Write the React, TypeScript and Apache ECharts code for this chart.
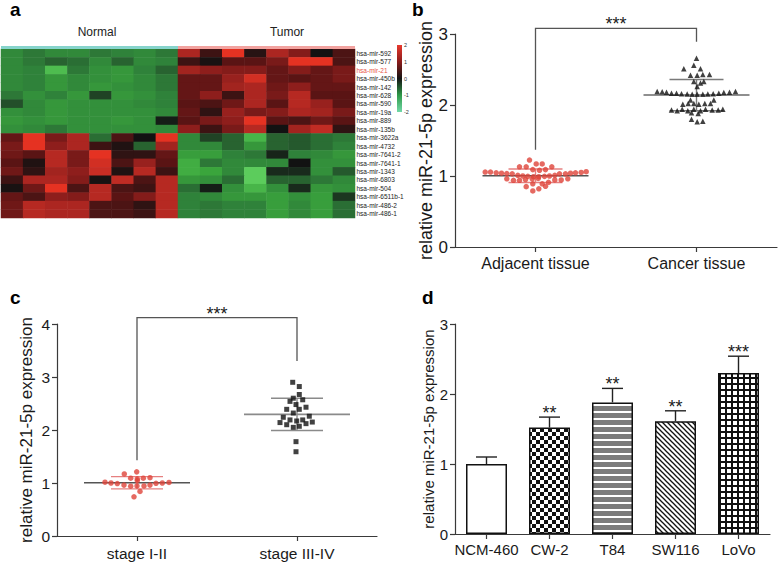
import React, { useEffect, useRef } from 'react';
import * as echarts from 'echarts';

const FONT = '"Liberation Sans", Arial, Helvetica, sans-serif';

// ---------- Panel a : heatmap ----------
const miRNAs = ['hsa-mir-592', 'hsa-mir-577', 'hsa-mir-21', 'hsa-mir-450b', 'hsa-mir-142', 'hsa-mir-628', 'hsa-mir-590', 'hsa-mir-19a', 'hsa-mir-889', 'hsa-mir-135b', 'hsa-mir-3622a', 'hsa-mir-4732', 'hsa-mir-7641-2', 'hsa-mir-7641-1', 'hsa-mir-1343', 'hsa-mir-6803', 'hsa-mir-504', 'hsa-mir-6511b-1', 'hsa-mir-486-2', 'hsa-mir-486-1'];
const highlightMiRNA = 'hsa-mir-21';
const sampleGroups = ['Normal', 'Tumor'];
const sampleIds = ['N1', 'N2', 'N3', 'N4', 'N5', 'N6', 'N7', 'N8', 'T1', 'T2', 'T3', 'T4', 'T5', 'T6', 'T7', 'T8'];
const heatNormal = [
  [-1.1, -0.9, -1.1, -1.1, -0.9, -1.0, -1.1, -0.9],
  [-1.1, -0.9, -0.7, -0.8, -1.1, -0.7, -1.1, -1.0],
  [-1.1, -1.0, -1.8, -0.9, -1.2, -1.3, -1.0, -0.7],
  [-1.1, -1.0, -1.3, -1.1, -1.2, -1.3, -1.1, -0.9],
  [-1.1, -1.0, -1.3, -1.1, -1.3, -1.2, -1.1, -0.9],
  [-0.9, -1.2, -1.0, -1.3, -0.4, -1.3, -1.2, -1.0],
  [-0.5, -1.1, -1.3, -1.2, -1.2, -1.2, -1.1, -1.0],
  [-1.2, -1.1, -1.3, -1.2, -1.2, -1.2, -1.2, -1.1],
  [-1.3, -1.2, -1.3, -1.2, -1.2, -1.3, -1.2, -0.1],
  [-1.2, -1.1, -0.9, -1.2, -1.2, -1.2, -1.2, -1.1],
  [0.6, 1.9, 0.8, 1.3, -0.8, 0.4, 0.0, 1.9],
  [0.8, 1.9, 1.0, 1.3, 0.3, 0.1, -0.7, 1.2],
  [0.7, 0.5, 1.4, 0.8, 1.9, 0.2, 0.2, 0.6],
  [0.5, 0.1, 1.4, 0.8, 1.7, 0.4, 1.1, 0.5],
  [0.7, 0.2, 1.2, 1.0, 1.6, 0.1, 1.4, 0.3],
  [0.3, 1.3, 1.3, 0.9, 0.05, 1.5, 0.4, 1.4],
  [0.05, 0.7, 1.9, 0.4, 1.4, 0.4, 0.3, 1.4],
  [0.6, 0.4, 1.0, 0.9, 1.4, 0.5, 0.9, 1.4],
  [0.7, 1.4, 1.3, 1.3, 0.4, 0.4, 0.2, 1.4],
  [0.7, 1.4, 1.3, 1.3, 0.4, 0.4, 0.3, 1.4],
];
const heatTumor = [
  [1.3, 0.3, 1.9, 0.15, 1.3, 0.9, 0.0, 0.4],
  [0.3, 0.05, 0.5, 0.5, 0.8, 1.9, 1.9, 0.4],
  [1.2, 1.0, 0.9, 0.9, 0.6, 0.9, 0.6, 0.8],
  [0.6, 0.6, 1.1, 1.7, 0.6, 0.5, 0.6, 0.8],
  [0.6, 0.6, 1.2, 1.3, 0.7, 1.0, 0.6, 0.6],
  [0.6, 1.0, 0.3, 1.3, 0.8, 1.4, 0.5, 0.5],
  [0.5, 0.4, 0.7, 1.3, 0.5, 1.4, 1.1, 0.5],
  [0.6, 0.2, 1.1, 0.8, 0.9, 1.3, 1.2, 0.8],
  [0.5, 0.8, 1.0, 1.9, 0.5, 0.4, 0.7, 0.5],
  [1.0, 0.3, 0.8, 1.4, 0.0, 1.2, 1.5, 0.2],
  [-1.1, -0.4, -0.7, -1.7, -0.7, -0.6, -0.8, -0.9],
  [-1.1, -1.1, -0.7, -1.3, -0.7, -0.6, -0.8, -1.0],
  [-1.4, -1.4, -1.0, -0.9, -0.15, -1.0, -1.1, -1.3],
  [-1.6, -0.9, -1.1, -1.1, -1.1, 0.0, -1.2, -1.2],
  [-1.6, -1.5, -1.1, -2.0, -0.2, -0.2, -1.2, -0.6],
  [-1.3, -1.2, -0.8, -2.0, -0.7, -0.7, -0.9, -1.1],
  [-0.8, -0.1, -1.2, -1.7, -1.2, -0.2, -1.3, -1.2],
  [-1.0, -1.1, -1.3, -1.3, -1.4, -1.2, -1.4, -0.3],
  [-1.0, -0.9, -1.0, -1.0, -1.4, -1.1, -1.4, -0.8],
  [-1.0, -0.9, -1.0, -1.0, -1.4, -1.1, -1.4, -0.8],
];
const legendTicks = [2, 1, 0, -1, -2];

// ---------- Panel b : adjacent vs cancer tissue ----------
const tissueCategories = ['Adjacent tissue', 'Cancer tissue'];
const adjacentValues = [1.225, 1.17, 1.17, 1.13, 1.13, 1.13, 1.09, 1.08, 1.09, 1.055, 1.055, 1.045, 1.04, 1.035, 1.03, 1.03, 1.03, 1.04, 1.045, 1.05, 1.06, 1.01, 1.0, 0.995, 0.99, 0.99, 0.995, 1.0, 1.01, 0.96, 0.94, 0.94, 0.95, 0.96, 0.965, 0.945, 0.945, 0.96, 0.89, 0.89, 0.91, 0.85, 0.855, 0.82, 0.79];
const adjacentJitter = [-6, 0.7, 6.7, -16, -9.3, 16.3, -2.7, 4, 10, -50.3, -45, -39.3, -34, -28.7, -23.3, 24, 30, 35, 40, 45.7, 50.7, -17.7, -12.7, -7.7, -2, 3.3, 9, 14, 19.3, -28.7, -22, -16, -10, -3.3, 2.7, 19.3, 25.7, 32.3, -2.7, 6.7, 13, -9.3, 10, 3.3, -2.7];
const cancerValues = [2.66, 2.56, 2.51, 2.51, 2.42, 2.42, 2.43, 2.43, 2.33, 2.31, 2.33, 2.26, 2.19, 2.185, 2.18, 2.165, 2.165, 2.16, 2.155, 2.15, 2.15, 2.15, 2.155, 2.16, 2.165, 2.175, 2.18, 2.19, 2.07, 2.07, 2.01, 2.02, 2.02, 2.01, 2.02, 2.02, 1.93, 1.92, 1.94, 1.92, 1.94, 1.92, 1.94, 1.93, 1.93, 1.94, 1.89, 1.88, 1.8, 1.765, 1.77];
const cancerJitter = [0, -2.7, -12.7, 4, -6, 0.7, 6.3, 13, -2.7, 4, 7.3, 0.7, -39.3, -34.3, -30, -25, -20, -15, -9.3, -4.3, 0.7, 6.3, 11.3, 16.7, 22.3, 27.3, 33, 39, -6, 17.3, -13.7, -8.3, -2.7, 2.3, 8.3, 14, -25, -19.3, -14.3, -8.7, -2.7, 4, 9, 15.7, 21.7, 26.3, -5, 1.7, -5, 0.7, 6.3];
const tissueMean = [1.004, 2.14];
const tissueSD = [0.095, 0.22];
const tissueBracket = [1.37, 3.08, 2.89]; // left end, top, right end (expression units)
const tissueSig = '***';

// ---------- Panel c : stage ----------
const stageCategories = ['stage I-II', 'stage III-IV'];
const stage12Values = [1.21, 1.17, 1.09, 1.08, 1.09, 1.1, 1.015, 1.0, 0.99, 0.96, 0.94, 0.945, 0.945, 0.96, 0.995, 1.0, 1.01, 1.045, 0.84, 0.74];
const stage12Jitter = [-0.3, -12.7, -6.3, 0.3, 6.3, 13, -32, -26, -19.7, -13, -6.3, 0, 7, 13, 19, 25.3, 32, 0.3, 3, -3];
const stage34Values = [2.9, 2.82, 2.67, 2.6, 2.54, 2.57, 2.48, 2.39, 2.39, 2.43, 2.32, 2.24, 2.19, 2.17, 2.19, 2.26, 2.14, 2.1, 2.05, 2.07, 2.12, 2.15, 1.78, 1.59];
const stage34Jitter = [-4.3, 2.3, 2.3, -3.7, -7, 5.7, -1, -10.3, 2.3, 9, -3.7, -13.7, -7, -0.3, 5.7, 12.3, -17, -10.3, -3.7, 2.3, 9, 15.3, -1, -1];
const stageMean = [1.005, 2.295];
const stageSD = [0.115, 0.305];
const stageBracket = [1.43, 4.12, 3.3];
const stageSig = '***';

// ---------- Panel d : cell lines ----------
const cellLines = ['NCM-460', 'CW-2', 'T84', 'SW116', 'LoVo'];
const cellMeans = [1.0, 1.52, 1.88, 1.61, 2.3];
const cellErr = [0.1, 0.15, 0.2, 0.15, 0.24];
const cellSig = ['', '**', '**', '**', '***'];

const AXIS = '#3a3a3a';
const TEXT = '#1a1a1a';
const RED = '#de4439';

function makeCanvas(w: number, h: number, draw: (ctx: CanvasRenderingContext2D) => void) {
  const c = document.createElement('canvas');
  c.width = w;
  c.height = h;
  const ctx = c.getContext('2d')!;
  draw(ctx);
  return c;
}

function buildPatterns() {
  const check = makeCanvas(8, 8, (ctx) => {
    ctx.fillStyle = '#fff'; ctx.fillRect(0, 0, 8, 8);
    ctx.fillStyle = '#111'; ctx.fillRect(0, 0, 4, 4); ctx.fillRect(4, 4, 4, 4);
  });
  const hstripe = makeCanvas(8, 7, (ctx) => {
    ctx.fillStyle = '#7c7c7c'; ctx.fillRect(0, 0, 8, 7);
    ctx.fillStyle = '#fff'; ctx.fillRect(0, 5, 8, 2);
  });
  const diag = makeCanvas(5, 5, (ctx) => {
    ctx.fillStyle = '#fff'; ctx.fillRect(0, 0, 5, 5);
    ctx.strokeStyle = '#111'; ctx.lineWidth = 1.3;
    for (let k = -1; k <= 1; k++) {
      ctx.beginPath(); ctx.moveTo(-1, -1 + 5 * k); ctx.lineTo(6, 6 + 5 * k); ctx.stroke();
    }
  });
  const grid = makeCanvas(6, 6, (ctx) => {
    ctx.fillStyle = '#111'; ctx.fillRect(0, 0, 6, 6);
    ctx.fillStyle = '#fff'; ctx.fillRect(1, 1, 4, 4);
  });
  return [
    '#ffffff',
    { image: check, repeat: 'repeat' },
    { image: hstripe, repeat: 'repeat' },
    { image: diag, repeat: 'repeat' },
    { image: grid, repeat: 'repeat' },
  ];
}

function txt(text: string, x: number, y: number, fontSize: number, extra: any = {}) {
  return {
    type: 'text', x, y,
    style: {
      text, fill: extra.fill || TEXT, fontSize, fontFamily: FONT, fontWeight: extra.fontWeight || 'normal',
      align: extra.align || 'left', verticalAlign: 'middle',
      textAlign: extra.align || 'left', textVerticalAlign: 'middle',
    },
  };
}

function meanSdRenderer(meanHalf: number, sdHalf: number, meanColors: string[], sdColors: string[]) {
  return (params: any, api: any) => {
    const i = api.value(0), m = api.value(1), s = api.value(2);
    const c = api.coord([i, m]);
    const t = api.coord([i, m + s]);
    const b = api.coord([i, m - s]);
    const mc = meanColors[params.dataIndex];
    const sc = sdColors[params.dataIndex];
    return {
      type: 'group',
      children: [
        { type: 'line', shape: { x1: c[0] - meanHalf, y1: c[1], x2: c[0] + meanHalf, y2: c[1] }, style: { stroke: mc, lineWidth: 1.6 } },
        { type: 'line', shape: { x1: t[0] - sdHalf, y1: t[1], x2: t[0] + sdHalf, y2: t[1] }, style: { stroke: sc, lineWidth: 1.4 } },
        { type: 'line', shape: { x1: b[0] - sdHalf, y1: b[1], x2: b[0] + sdHalf, y2: b[1] }, style: { stroke: sc, lineWidth: 1.4 } },
        { type: 'line', shape: { x1: t[0], y1: t[1], x2: b[0], y2: b[1] }, style: { stroke: sc, lineWidth: 1.4 } },
      ],
    };
  };
}

function bracketRenderer(sig: string) {
  return (_params: any, api: any) => {
    const lb = api.value(1), top = api.value(2), rb = api.value(3);
    const p1 = api.coord([0, lb]);
    const p2 = api.coord([0, top]);
    const p3 = api.coord([1, top]);
    const p4 = api.coord([1, rb]);
    return {
      type: 'group',
      children: [
        { type: 'polyline', shape: { points: [p1, p2, p3, p4] }, style: { stroke: '#555', lineWidth: 1.3, fill: null } },
        txt(sig, (p2[0] + p3[0]) / 2, p2[1] - 4, 18, { align: 'center' }),
      ],
    };
  };
}

function valueAxis(grid: number, max: number, name: string, nameSize: number, nameGap: number, labelSize: number, labelMargin: number) {
  return {
    type: 'value', gridIndex: grid, min: 0, max, interval: 1,
    name, nameLocation: 'middle', nameGap,
    nameTextStyle: { fontSize: nameSize, color: TEXT, fontFamily: FONT },
    axisLine: { show: true, lineStyle: { color: AXIS, width: 1.2 } },
    axisTick: { show: true, length: 5, lineStyle: { color: AXIS, width: 1.2 } },
    splitLine: { show: false },
    axisLabel: { fontSize: labelSize, color: TEXT, margin: labelMargin, fontFamily: FONT },
  };
}

function categoryAxis(grid: number, data: string[], labelSize: number, margin: number) {
  return {
    type: 'category', gridIndex: grid, data,
    axisLine: { show: true, lineStyle: { color: AXIS, width: 1.2 } },
    axisTick: { show: true, alignWithLabel: true, length: 5, lineStyle: { color: AXIS, width: 1.2 } },
    axisLabel: { fontSize: labelSize, color: TEXT, margin, fontFamily: FONT, interval: 0 },
  };
}

function scatterData(values: number[], jitter: number[], cat: number) {
  return values.map((v, i) => ({ value: [cat, v], symbolOffset: [jitter[i], 0] }));
}

export default function App() {
  const ref = useRef<HTMLDivElement>(null);

  useEffect(() => {
    if (!ref.current) return;
    const chart = echarts.init(ref.current, undefined, { renderer: 'svg' });
    const patterns = buildPatterns();

    const heatData: number[][] = [];
    miRNAs.forEach((_, r) => {
      heatNormal[r].forEach((v, c) => heatData.push([c, r, v]));
      heatTumor[r].forEach((v, c) => heatData.push([c + heatNormal[r].length, r, v]));
    });

    const legendTop = 45, legendH = 67;
    const legendGraphics = legendTicks.map((t) =>
      txt(String(t), 404, legendTop + ((2 - t) / 4) * legendH, 5.5, { fill: '#333' })
    );

    const option: any = {
      animation: false,
      backgroundColor: '#fff',
      textStyle: { fontFamily: FONT },
      grid: [
        { left: 1, top: 49, width: 354, height: 169 },
        { left: 1, top: 46, width: 354, height: 3 },
        { left: 455, top: 34, width: 322, height: 213 },
        { left: 57, top: 324, width: 320, height: 212 },
        { left: 455, top: 324, width: 315, height: 210 },
      ],
      xAxis: [
        { type: 'category', gridIndex: 0, data: sampleIds, show: false },
        { type: 'category', gridIndex: 1, data: sampleGroups, show: false },
        categoryAxis(2, tissueCategories, 16, 8),
        categoryAxis(3, stageCategories, 15.5, 9),
        categoryAxis(4, cellLines, 15, 8),
      ],
      yAxis: [
        {
          type: 'category', gridIndex: 0, data: miRNAs, inverse: true, position: 'right',
          axisLine: { show: false }, axisTick: { show: false },
          axisLabel: {
            fontSize: 6.5, margin: 1.5, interval: 0, fontFamily: FONT,
            color: (v: string) => (v === highlightMiRNA ? '#e8554a' : '#222'),
          },
        },
        { type: 'value', gridIndex: 1, min: 0, max: 1, show: false },
        valueAxis(2, 3, 'relative miR-21-5p expression', 18, 15, 17, 7),
        valueAxis(3, 4, 'relative miR-21-5p expression', 17, 22, 15.5, 7),
        valueAxis(4, 3, 'relative miR-21-5p expression', 15, 19, 15, 7),
      ],
      visualMap: [
        {
          type: 'continuous', show: false, seriesIndex: 0, min: -2, max: 2,
          inRange: { color: ['#5ccc5c', '#3aa53c', '#2f823a', '#234f2a', '#121212', '#5a1414', '#8e1e1c', '#c02c24', '#ee3322'] },
        },
      ],
      graphic: [
        txt('a', 10, 9, 19, { fontWeight: 'bold', fill: '#000' }),
        txt('b', 412, 9, 19, { fontWeight: 'bold', fill: '#000' }),
        txt('c', 10, 297, 19, { fontWeight: 'bold', fill: '#000' }),
        txt('d', 422, 297, 19, { fontWeight: 'bold', fill: '#000' }),
        {
          type: 'rect', shape: { x: 397, y: legendTop, width: 5, height: legendH },
          style: {
            fill: new echarts.graphic.LinearGradient(0, 0, 0, 1, [
              { offset: 0, color: '#e8392e' },
              { offset: 0.25, color: '#8a1c1c' },
              { offset: 0.5, color: '#141414' },
              { offset: 0.75, color: '#2f9a4a' },
              { offset: 1, color: '#72d8a8' },
            ]),
          },
        },
        ...legendGraphics,
      ],
      series: [
        {
          type: 'heatmap', xAxisIndex: 0, yAxisIndex: 0, data: heatData,
          itemStyle: { borderWidth: 0 },
        },
        {
          type: 'bar', xAxisIndex: 1, yAxisIndex: 1, barWidth: '100%', barCategoryGap: 0,
          data: [
            { value: 1, itemStyle: { color: '#86d4cc' }, label: { offset: [7.5, 0] } },
            { value: 1, itemStyle: { color: '#f2a3a0' }, label: { offset: [20.5, 0] } },
          ],
          label: { show: true, position: 'top', distance: 8, formatter: '{b}', fontSize: 12, color: '#222', fontFamily: FONT },
        },
        // panel b
        {
          type: 'custom', xAxisIndex: 2, yAxisIndex: 2, z: 2,
          encode: { x: 0, y: [1, 2] },
          data: tissueMean.map((m, i) => [i, m, tissueSD[i]]),
          renderItem: meanSdRenderer(53, 27, ['#555', '#6a6a6a'], ['#e68080', '#7a7a7a']),
        },
        {
          type: 'scatter', xAxisIndex: 2, yAxisIndex: 2, z: 3, symbol: 'circle', symbolSize: 5.5,
          itemStyle: { color: RED }, data: scatterData(adjacentValues, adjacentJitter, 0),
        },
        {
          type: 'scatter', xAxisIndex: 2, yAxisIndex: 2, z: 3, symbol: 'triangle', symbolSize: 5.5,
          itemStyle: { color: '#111' }, data: scatterData(cancerValues, cancerJitter, 1),
        },
        {
          type: 'custom', xAxisIndex: 2, yAxisIndex: 2, z: 2,
          encode: { x: 0, y: [1, 2, 3] },
          data: [[0, ...tissueBracket]],
          renderItem: bracketRenderer(tissueSig),
        },
        // panel c
        {
          type: 'custom', xAxisIndex: 3, yAxisIndex: 3, z: 2,
          encode: { x: 0, y: [1, 2] },
          data: stageMean.map((m, i) => [i, m, stageSD[i]]),
          renderItem: meanSdRenderer(53, 26, ['#555', '#8a8a8a'], ['#e68080', '#8a8a8a']),
        },
        {
          type: 'scatter', xAxisIndex: 3, yAxisIndex: 3, z: 3, symbol: 'circle', symbolSize: 5.5,
          itemStyle: { color: RED }, data: scatterData(stage12Values, stage12Jitter, 0),
        },
        {
          type: 'scatter', xAxisIndex: 3, yAxisIndex: 3, z: 3, symbol: 'rect', symbolSize: 5,
          itemStyle: { color: '#111' }, data: scatterData(stage34Values, stage34Jitter, 1),
        },
        {
          type: 'custom', xAxisIndex: 3, yAxisIndex: 3, z: 2,
          encode: { x: 0, y: [1, 2, 3] },
          data: [[0, ...stageBracket]],
          renderItem: bracketRenderer(stageSig),
        },
        // panel d
        {
          type: 'bar', xAxisIndex: 4, yAxisIndex: 4, barWidth: 41, z: 2,
          data: cellMeans.map((m, i) => ({
            value: m,
            itemStyle: { color: patterns[i], borderColor: '#111', borderWidth: 1.5 },
          })),
        },
        {
          type: 'custom', xAxisIndex: 4, yAxisIndex: 4, z: 3,
          encode: { x: 0, y: [1, 2] },
          data: cellMeans.map((m, i) => [i, m, cellErr[i]]),
          renderItem: (params: any, api: any) => {
            const i = api.value(0), m = api.value(1), e = api.value(2);
            const base = api.coord([i, m]);
            const top = api.coord([i, m + e]);
            const children: any[] = [
              { type: 'line', shape: { x1: base[0], y1: base[1], x2: top[0], y2: top[1] }, style: { stroke: '#222', lineWidth: 1.4 } },
              { type: 'line', shape: { x1: top[0] - 10.5, y1: top[1], x2: top[0] + 10.5, y2: top[1] }, style: { stroke: '#222', lineWidth: 1.4 } },
            ];
            const sig = cellSig[params.dataIndex];
            if (sig) children.push(txt(sig, top[0], top[1] - 4, 18, { align: 'center' }));
            return { type: 'group', children };
          },
        },
      ],
    };

    chart.setOption(option);
    return () => chart.dispose();
  }, []);

  return <div ref={ref} style={{ position: 'fixed', left: 0, top: 0, width: 778, height: 563, background: '#fff' }} />;
}
